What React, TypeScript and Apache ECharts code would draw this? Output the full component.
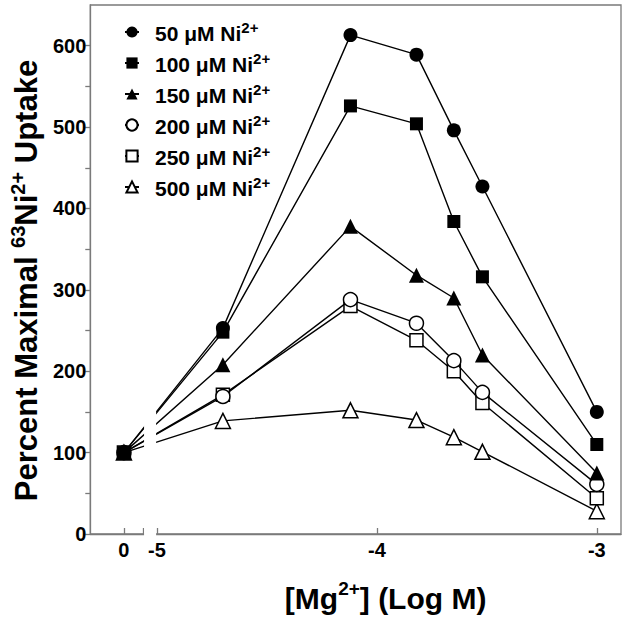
import React, { useEffect, useRef } from 'react';
import * as echarts from 'echarts';

// log [Mg2+] (M); 0 stands for "no Mg2+ added", drawn left of the axis break
const mgLog = [0, -4.7, -4.12, -3.82, -3.65, -3.52, -3];
const niConc = [50, 100, 150, 200, 250, 500];
const ni50 = [100, 253, 613, 589, 496, 427, 150];
const ni100 = [100, 248, 526, 504, 384, 316, 110];
const ni150 = [100, 208, 378, 318, 290, 220, 75];
const ni200 = [100, 169, 288, 259, 213, 174, 61];
const ni250 = [100, 171, 280, 238, 200, 161, 44];
const ni500 = [100, 139, 152, 140, 119, 101, 28];
const xTickLabels = ['0', '-5', '-4', '-3'];
const xTickValues = [0, -5, -4, -3];
const yTickLabels = [0, 100, 200, 300, 400, 500, 600];
const yMinorTicks = [0, 50, 100, 150, 200, 250, 300, 350, 400, 450, 500, 550, 600];

const ZERO_POS = -5.15;
const BREAK_END = -5.063;
const X_MIN = -5.303;
const X_MAX = -2.89;
const toAxis = (v: number) => (v === 0 ? ZERO_POS : v);

const FONT = '"Liberation Sans", Arial, sans-serif';

const seriesValues = [ni50, ni100, ni150, ni200, ni250, ni500];
const symbols = ['circle', 'rect', 'triangle', 'circle', 'rect', 'triangle'];
const filled = [true, true, true, false, false, false];

export default function App() {
  const ref = useRef<HTMLDivElement>(null);
  useEffect(() => {
    if (!ref.current) return;
    const chart = echarts.init(ref.current, undefined, { renderer: 'svg' });
    const names = niConc.map((c) => `${c} μM Ni2+`);
    const series = seriesValues.map((vals, i) => ({
      name: names[i],
      type: 'line',
      data: vals.map((v, j) => [toAxis(mgLog[j]), v]),
      symbol: symbols[i],
      symbolSize: symbols[i] === 'rect' ? 13 : symbols[i] === 'triangle' ? 15 : 14,
      showSymbol: true,
      lineStyle: { color: '#000', width: 1.4 },
      itemStyle: {
        color: filled[i] ? '#000' : '#fff',
        borderColor: '#000',
        borderWidth: filled[i] ? 0 : 1.5,
      },
      z: 10 - i,
    }));
    const labelFor = (v: number) => {
      const idx = xTickValues.findIndex((t) => Math.abs(toAxis(t) - v) < 1e-6);
      return idx >= 0 ? xTickLabels[idx] : '';
    };
    const nameRich = (big: number, small: number, lh: number, raise: number) => ({
      t: { fontFamily: FONT, fontWeight: 'bold', fontSize: big, color: '#000', lineHeight: lh, verticalAlign: 'bottom' },
      s: { fontFamily: FONT, fontWeight: 'bold', fontSize: small, color: '#000', lineHeight: lh, verticalAlign: 'top', padding: [0, 0, raise, 0] },
    });
    chart.setOption({
      animation: false,
      grid: {
        left: 86,
        right: 6,
        top: 5,
        bottom: 78,
        show: true,
        borderColor: '#7a7a7a',
        borderWidth: 1.3,
      },
      legend: {
        orient: 'vertical',
        left: 119,
        top: 15,
        itemWidth: 14,
        itemHeight: 14,
        itemGap: 7,
        data: names,
        formatter: (n: string) => {
          const c = n.split(' ')[0];
          return `{t|${c} μM Ni}{s|2+}`;
        },
        textStyle: {
          padding: [0, 0, 0, 11],
          rich: nameRich(21, 15, 24, 9),
        },
      },
      xAxis: {
        type: 'value',
        min: X_MIN,
        max: X_MAX,
        splitLine: { show: false },
        axisLine: { show: true, lineStyle: { color: '#7a7a7a', width: 1.3 } },
        axisTick: {
          show: true,
          inside: true,
          length: 6,
          customValues: [ZERO_POS, BREAK_END, -5, -4, -3],
          lineStyle: { color: '#7a7a7a', width: 1.3 },
        },
        axisLabel: {
          customValues: xTickValues.map(toAxis),
          formatter: (v: number) => labelFor(v),
          fontFamily: FONT,
          fontWeight: 'bold',
          fontSize: 20,
          color: '#000',
          margin: 6,
        },
        name: '{t|[Mg}{s|2+}{t|] (Log M)}',
        nameLocation: 'middle',
        nameGap: 45,
        nameTextStyle: {
          padding: [0, 0, 0, 60],
          rich: nameRich(30, 19, 34, 12),
        },
      },
      yAxis: {
        type: 'value',
        min: 0,
        max: 650,
        splitLine: { show: false },
        axisLine: { show: true, lineStyle: { color: '#7a7a7a', width: 1.3 } },
        axisTick: {
          show: true,
          length: 5,
          customValues: yMinorTicks,
          lineStyle: { color: '#7a7a7a', width: 1.3 },
        },
        axisLabel: {
          customValues: yTickLabels,
          fontFamily: FONT,
          fontWeight: 'bold',
          fontSize: 20,
          color: '#000',
          margin: 4,
        },
        name: '{t|Percent Maximal }{s|63}{t|Ni}{s|2+}{t| Uptake}',
        nameLocation: 'middle',
        nameGap: 48,
        nameTextStyle: {
          padding: [0, 22, 0, 0],
          rich: nameRich(31, 20, 34, 12),
        },
      },
      series,
    });
    const x1 = chart.convertToPixel({ xAxisIndex: 0 }, BREAK_END) + 1;
    const x2 = chart.convertToPixel({ xAxisIndex: 0 }, -5) - 0.8;
    const yTop = chart.convertToPixel({ yAxisIndex: 0 }, 200);
    const yBot = chart.convertToPixel({ yAxisIndex: 0 }, 0) + 2;
    chart.setOption({
      graphic: [
        {
          type: 'rect',
          shape: { x: x1, y: yTop, width: x2 - x1, height: yBot - yTop },
          style: { fill: '#fff' },
          z: 100,
        },
      ],
    });
    return () => chart.dispose();
  }, []);
  return (
    <div
      ref={ref}
      style={{ position: 'fixed', left: 0, top: 0, width: 627, height: 618, background: '#fff' }}
    />
  );
}
